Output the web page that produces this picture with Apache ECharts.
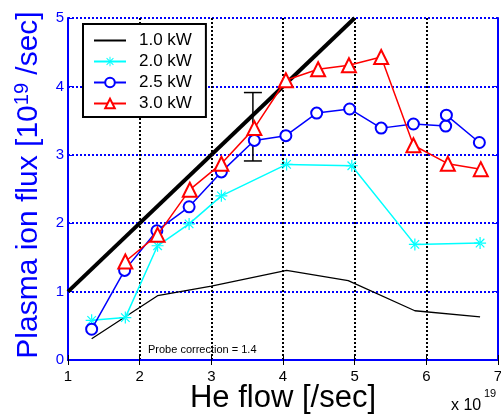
<!DOCTYPE html>
<html><head><meta charset="utf-8">
<script src="https://cdn.jsdelivr.net/npm/echarts@6/dist/echarts.min.js"></script>
<style>html,body{margin:0;padding:0;background:#fff}#c{width:501px;height:417px}</style>
</head><body><div id="c"></div>
<script>
const FONT = 'Liberation Sans, Arial, sans-serif';
const xTicks = [1, 2, 3, 4, 5, 6, 7];
const yTicks = [0, 1, 2, 3, 4, 5];

const x10 = [1.33, 2.25, 3.0, 4.05, 4.91, 5.84, 6.75];
const y10 = [0.31, 0.94, 1.08, 1.31, 1.16, 0.72, 0.63];
const x20 = [1.33, 1.80, 2.25, 2.69, 3.14, 4.05, 4.96, 5.84, 6.75];
const y20 = [0.58, 0.62, 1.67, 1.99, 2.40, 2.86, 2.84, 1.69, 1.71];
const x25 = [1.33, 1.79, 2.24, 2.69, 3.14, 3.60, 4.04, 4.47, 4.93, 5.37, 5.82, 6.27, 6.28, 6.74];
const y25 = [0.45, 1.31, 1.89, 2.24, 2.75, 3.21, 3.28, 3.61, 3.67, 3.39, 3.45, 3.42, 3.58, 3.18];
const x30 = [1.80, 2.25, 2.70, 3.14, 3.60, 4.04, 4.49, 4.92, 5.37, 5.82, 6.30, 6.76];
const y30 = [1.44, 1.83, 2.49, 2.87, 3.39, 4.09, 4.25, 4.31, 4.43, 3.14, 2.87, 2.79];
const idealX = [1, 5];
const idealY = [1, 5];
const errX = [3.58];
const errLow = [2.91];
const errHigh = [3.91];
const names = ['1.0 kW', '2.0 kW', '2.5 kW', '3.0 kW'];

const zip = (a, b) => a.map((v, i) => [v, b[i]]);
const asterisk = 'path://M-1,-10L1,-10L1,10L-1,10Z M-10,-1L10,-1L10,1L-10,1Z M-7.8,-6.4L6.4,7.8L7.8,6.4L-6.4,-7.8Z M-7.8,6.4L6.4,-7.8L7.8,-6.4L-6.4,7.8Z';

const chart = echarts.init(document.getElementById('c'), null, {renderer: 'canvas'});
chart.setOption({
  animation: false,
  backgroundColor: '#fff',
  grid: {left: 68, right: 3, top: 18, bottom: 57, containLabel: false, outerBoundsMode: 'none'},
  legend: {
    data: [
      {name: names[0], itemStyle: {color: 'rgba(0,0,0,0)', borderWidth: 0}},
      names[1], names[2], names[3]
    ],
    orient: 'vertical',
    left: 83, top: 24,
    backgroundColor: '#fff',
    borderColor: '#000', borderWidth: 2, borderRadius: 0,
    padding: [8, 14, 5, 10],
    itemWidth: 32, itemHeight: 12, itemGap: 4,
    textStyle: {fontFamily: FONT, fontSize: 17, color: '#000', lineHeight: 17, padding: [0, 0, 0, 8]}
  },
  xAxis: [{
    type: 'value', min: 1, max: 7, interval: 1,
    axisLine: {lineStyle: {color: '#000', width: 2}},
    axisTick: {inside: true, length: 5, lineStyle: {color: '#000', width: 1}},
    axisLabel: {color: '#000', fontFamily: FONT, fontSize: 15, margin: 9,
      formatter: v => xTicks.includes(v) ? String(v) : ''},
    splitLine: {show: true, lineStyle: {color: '#000', width: 2, type: [2, 2]}},
    name: 'He flow [/sec]', nameLocation: 'middle', nameGap: 23, nameMoveOverlap: false,
    nameTextStyle: {fontFamily: FONT, fontSize: 31, color: '#000'}
  }, {
    type: 'value', min: 1, max: 7, interval: 1, position: 'top',
    axisLine: {lineStyle: {color: '#0000ff', width: 2}},
    axisTick: {inside: true, length: 5, lineStyle: {color: '#000', width: 1}},
    axisLabel: {show: false}, splitLine: {show: false}
  }],
  yAxis: [{
    type: 'value', min: 0, max: 5, interval: 1,
    axisLine: {lineStyle: {color: '#0000ff', width: 2}},
    axisTick: {inside: true, length: 5, lineStyle: {color: '#0000ff', width: 1}},
    axisLabel: {color: '#0000ff', fontFamily: FONT, fontSize: 15, margin: 4,
      formatter: v => yTicks.includes(v) ? String(v) : ''},
    splitLine: {show: true, lineStyle: {color: '#0000ff', width: 2, type: [2, 2]}},
    name: '{a|Plasma ion flux [10}{s|19}{a| /sec]}', nameLocation: 'middle', nameGap: 22, nameRotate: 90,
    nameMoveOverlap: false,
    nameTextStyle: {color: '#0000ff', fontFamily: FONT, padding: [0, 0, 0, 8],
      rich: {
        a: {fontFamily: FONT, fontSize: 30, color: '#0000ff', lineHeight: 34},
        s: {fontFamily: FONT, fontSize: 20, color: '#0000ff', verticalAlign: 'top', lineHeight: 34, padding: [0, 0, 8, 0]}
      }}
  }, {
    type: 'value', min: 0, max: 5, interval: 1, position: 'right',
    axisLine: {lineStyle: {color: '#0000ff', width: 2}},
    axisTick: {inside: true, length: 5, lineStyle: {color: '#0000ff', width: 1}},
    axisLabel: {show: false}, splitLine: {show: false}
  }],
  series: [
    {type: 'line', name: 'ideal', data: zip(idealX, idealY), symbol: 'none',
     lineStyle: {color: '#000', width: 4}, z: 2},
    {type: 'custom', name: 'err', data: errX.map((x, i) => [x, errLow[i], errHigh[i]]), z: 3,
     renderItem: (params, api) => {
       const lo = api.coord([api.value(0), api.value(1)]);
       const hi = api.coord([api.value(0), api.value(2)]);
       const w = 9;
       const st = {stroke: '#000', lineWidth: 1.5};
       return {type: 'group', children: [
         {type: 'line', shape: {x1: lo[0], y1: lo[1], x2: hi[0], y2: hi[1]}, style: st},
         {type: 'line', shape: {x1: lo[0] - w, y1: lo[1], x2: lo[0] + w, y2: lo[1]}, style: st},
         {type: 'line', shape: {x1: hi[0] - w, y1: hi[1], x2: hi[0] + w, y2: hi[1]}, style: st}
       ]};
     }},
    {type: 'line', name: names[0], data: zip(x10, y10), symbol: 'none',
     itemStyle: {color: '#000'}, lineStyle: {color: '#000', width: 1.3}, z: 4},
    {type: 'line', name: names[1], data: zip(x20, y20), symbol: asterisk, symbolSize: 12,
     itemStyle: {color: '#00ffff'}, lineStyle: {color: '#00ffff', width: 1.5}, z: 5},
    {type: 'line', name: names[2], data: zip(x25, y25), symbol: 'emptyCircle', symbolSize: 11,
     itemStyle: {color: '#0000ff', borderWidth: 1.5}, lineStyle: {color: '#0000ff', width: 1.5}, z: 6},
    {type: 'line', name: names[3], data: zip(x30, y30), symbol: 'emptyTriangle', symbolSize: 14,
     itemStyle: {color: '#ff0000', borderWidth: 1.5}, lineStyle: {color: '#ff0000', width: 1.5}, z: 7}
  ],
  graphic: [
    {type: 'text', left: 148, top: 344, z: 10,
     style: {text: 'Probe correction = 1.4', font: '11px ' + FONT, fill: '#000'}},
    {type: 'text', left: 451, top: 398, z: 10,
     style: {text: 'x 10', font: '16px ' + FONT, fill: '#000'}},
    {type: 'text', left: 484, top: 388, z: 10,
     style: {text: '19', font: '11px ' + FONT, fill: '#000'}}
  ]
});
</script></body></html>
